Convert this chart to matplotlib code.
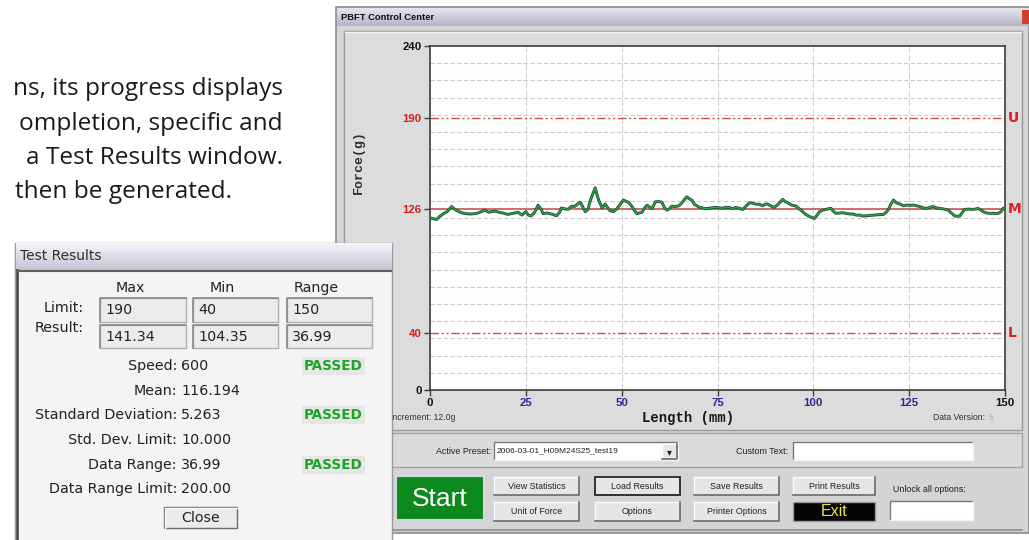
import numpy as np
import matplotlib
matplotlib.use("Agg")
import matplotlib.pyplot as plt
import matplotlib.colors as mc
from matplotlib.patches import Rectangle
from matplotlib import font_manager as fm

# ---------------- data ----------------
length_mm = [0, 0.8, 1.7, 2.5, 3.5, 4.5, 5.6, 6.5, 7.5, 8.5, 9.5, 10.5, 11.5, 12.5, 13.5, 14.3,
             15.3, 16.2, 17, 18, 19, 20.3, 21.2, 22, 23, 24, 25, 25.7, 26.4, 27.3, 28.2, 29,
             29.5, 30.5, 31.7, 32.5, 33, 33.8, 34.3, 35, 36, 37, 37.7, 38.6, 39.2, 40, 40.5,
             41.2, 41.8, 42.5, 43.1, 43.6, 44, 44.9, 45.7, 46.4, 47, 47.9, 48.6, 49.2, 50,
             50.5, 51.2, 51.8, 52.7, 53.4, 54, 55.3, 56, 56.6, 57.3, 57.9, 58.8, 59.6, 60.5,
             61.2, 61.8, 62.5, 63.1, 64, 64.9, 65.7, 66.4, 67, 67.6, 68.3, 69, 69.6, 70.3,
             70.9, 71.8, 72.7, 73.6, 74.6, 75.3, 76.2, 77.1, 78.1, 79, 79.8, 80.7, 81.6, 82.5,
             83.4, 84.2, 85, 86, 86.8, 87.5, 88.1, 89, 89.8, 90.8, 92, 92.6, 93.3, 94.3, 95.5,
             96.3, 97.2, 98, 99, 99.7, 100.3, 101, 101.6, 102.5, 103.4, 104, 104.6, 105.3,
             105.9, 106.8, 107.7, 108.5, 109.5, 110.3, 111.2, 112.2, 112.9, 114, 115.7, 117,
             118.3, 119, 119.6, 120.2, 120.9, 121.7, 122.6, 123.5, 124.4, 125.3, 126.1, 127,
             127.8, 128.7, 129.6, 130.5, 131.3, 132.2, 133, 134, 135.2, 136, 136.9, 137.5,
             138.2, 138.9, 139.5, 140.5, 141.7, 142.4, 143, 143.7, 144.3, 145.2, 146, 147,
             148.2, 149, 149.5, 150]
force_g = [120, 119.5, 119, 121, 123, 124.5, 128, 126, 124.5, 123.5, 123, 122.8, 123, 123.5,
           124.5, 125.5, 124, 124.5, 124.8, 124, 123.5, 122.5, 123, 123.5, 124, 122, 124.5,
           122, 121.5, 124, 129, 126, 123, 123.5, 122.8, 122, 121.5, 124, 127, 126.5, 126,
           128.3, 128, 130, 131, 127, 124.4, 126, 132, 137, 141, 136, 132.5, 127, 129.7, 127,
           125, 124.5, 126, 128, 131, 132.5, 131.5, 131, 128, 125, 123, 124, 127, 129, 127.5,
           126.5, 131.3, 131.5, 131, 127, 125.5, 126.5, 128.3, 128, 128.5, 130.5, 133, 134.8,
           133.5, 132.5, 129.5, 128.5, 127.5, 127.2, 126.5, 126.7, 127.2, 127.4, 127.2, 126.8,
           127.4, 127.3, 126.6, 127.4, 126.7, 126, 128.5, 130.7, 130.3, 129.7, 129.5, 128.5,
           129.7, 129.7, 128.3, 127.4, 129.5, 133, 131.5, 130.7, 129, 128.3, 126.5, 124.4,
           122.5, 121, 120.2, 119.7, 122, 124.4, 125.5, 126, 126.5, 126.7, 124.5, 123.2, 123.5,
           123.7, 123.2, 122.8, 122.8, 122, 122, 121.3, 121.6, 122, 122.3, 122.5, 124, 126,
           129.5, 132.5, 130.5, 129.7, 128.5, 129, 128.8, 129, 128.5, 128, 127, 126.7, 127.5,
           128, 127, 126.7, 126.3, 125.5, 123.5, 121.4, 121.2, 121.4, 124, 126, 126.2, 126,
           126.3, 126.7, 125.5, 124.4, 123.5, 123.2, 123.3, 123.2, 124.5, 126.7, 127]

upper_limit = 190
lower_limit = 40
mean_level = 126
grid_increment = 12.0
y_ticks = [0, 40, 126, 190, 240]
x_ticks = [0, 25, 50, 75, 100, 125, 150]
limit_tags = ["U", "M", "L"]

results_headers = ["Max", "Min", "Range"]
limit_values = ["190", "40", "150"]
result_values = ["141.34", "104.35", "36.99"]
stat_labels = ["Speed:", "Mean:", "Standard Deviation:", "Std. Dev. Limit:", "Data Range:",
               "Data Range Limit:"]
stat_values = ["600", "116.194", "5.263", "10.000", "36.99", "200.00"]
stat_status = ["PASSED", "", "PASSED", "", "PASSED", ""]

paragraph = ["ns, its progress displays", "ompletion, specific and",
             "a Test Results window.", "then be generated."]

# ---------------- fonts ----------------
names = {f.name for f in fm.fontManager.ttflist}
NARROW = "Liberation Sans Narrow" if "Liberation Sans Narrow" in names else "Liberation Sans"
NSCALE = 1.0 if NARROW == "Liberation Sans Narrow" else 0.82
MONO = "Liberation Mono"
BODY = "Open Sans" if "Open Sans" in names else "DejaVu Sans"

W, H = 1029, 540
fig = plt.figure(figsize=(W / 100, H / 100), dpi=100)
fig.patch.set_facecolor("white")

bg = fig.add_axes([0, 0, 1, 1], zorder=0)
bg.axis("off")
bg.set_autoscale_on(False)
bg.set_xlim(0, W)
bg.set_ylim(H, 0)


def rect(ax, x0, y0, x1, y1, fc, ec="none", lw=1.0, z=1):
    ax.add_patch(Rectangle((x0, y0), x1 - x0, y1 - y0, facecolor=fc, edgecolor=ec,
                           linewidth=lw, zorder=z))


def vgrad(ax, x0, y0, x1, y1, c0, c1, z=1):
    a = np.array(mc.to_rgb(c0))
    b = np.array(mc.to_rgb(c1))
    t = np.linspace(0, 1, 64)[:, None, None]
    img = a + (b - a) * t
    img = np.repeat(img, 2, axis=1)
    ax.imshow(img, extent=(x0, x1, y1, y0), aspect="auto", zorder=z, interpolation="bilinear")


def sunken(ax, x0, y0, x1, y1, fc="white", z=3):
    rect(ax, x0, y0, x1, y1, fc, z=z)
    ax.plot([x0, x0, x1], [y1, y0, y0], color="#7a7a7a", lw=1, zorder=z + 0.1)
    ax.plot([x0, x1, x1], [y1, y1, y0], color="#f4f4f4", lw=1, zorder=z + 0.1)


def button(ax, x0, y0, x1, y1, label, fc="#e6e6e6", tc="#222222", size=8.0, bold=False,
           family=None, dark=False, z=3):
    rect(ax, x0, y0, x1, y1, fc, z=z)
    ax.plot([x0, x0, x1], [y1, y0, y0], color="#fbfbfb", lw=1, zorder=z + 0.1)
    ax.plot([x0, x1, x1], [y1, y1, y0], color="#6a6a6a", lw=1.2, zorder=z + 0.1)
    if dark:
        rect(ax, x0, y0, x1, y1, "none", ec="#333333", lw=1.4, z=z + 0.2)
    ax.text((x0 + x1) / 2, (y0 + y1) / 2 + 0.5, label, ha="center", va="center", color=tc,
            fontsize=size, family=family or NARROW, fontweight="bold" if bold else "normal",
            zorder=z + 0.3)


# ---------------- left paragraph ----------------
para_right = [283, 283, 283, 232]
for i, line in enumerate(paragraph):
    bg.text(para_right[i], 89 + 34.5 * i, line, ha="right", va="center", fontsize=17.6,
            family=BODY, color="#1a1a1a")

# ---------------- PBFT window ----------------
rect(bg, 336, 7, W, 533, "#d4d4d6", ec="#8c8c90", lw=1.2, z=1)
vgrad(bg, 337, 8, W, 26, "#e6e6ee", "#b4b4c6", z=1.2)
bg.text(341, 17.5, "PBFT Control Center", ha="left", va="center", fontsize=8.2 * NSCALE,
        family=NARROW, fontweight="bold", color="#101010", zorder=2)
rect(bg, 1022, 10, 1030, 24, "#d04030", z=1.3)
# chart panel
rect(bg, 344, 31, 1022, 430, "#dcdcdc", ec="#9a9a9a", lw=1, z=1.5)
bg.plot([345, 1021], [31.5, 31.5], color="#f6f6f6", lw=1, zorder=1.6)
# preset panel
rect(bg, 344, 433, 1022, 467, "#dadada", ec="#a4a4a4", lw=1, z=1.5)
bg.plot([344, 1022], [530, 530], color="#8c8c8c", lw=1.2, zorder=1.6)

bg.text(390, 418, "Increment: 12.0g", ha="left", va="center", fontsize=7.6 * NSCALE,
        family=NARROW, color="#303030", zorder=2)
bg.text(985, 418, "Data Version:", ha="right", va="center", fontsize=7.6 * NSCALE,
        family=NARROW, color="#303030", zorder=2)
bg.text(989, 418, "5", ha="left", va="center", fontsize=7.6 * NSCALE, family=NARROW,
        color="#b0b0b0", zorder=2)
bg.text(688, 418, "Length (mm)", ha="center", va="center", fontsize=10, family=MONO,
        fontweight="bold", color="#151515", zorder=2)
bg.text(359, 162, "Force(g)", ha="center", va="center", rotation=90, fontsize=9.5,
        family=MONO, fontweight="bold", color="#303030", zorder=2)

bg.text(491, 451, "Active Preset:", ha="right", va="center", fontsize=7.8 * NSCALE,
        family=NARROW, color="#202020", zorder=2)
sunken(bg, 494, 442, 678, 460)
bg.text(497, 450.5, "2006-03-01_H09M24S25_test19", ha="left", va="center",
        fontsize=7.4 * NSCALE, family=NARROW, color="#202020", zorder=4)
button(bg, 662, 443.5, 677, 459, "\u25be", size=7, family="DejaVu Sans", z=4)
bg.text(788, 451, "Custom Text:", ha="right", va="center", fontsize=7.8 * NSCALE,
        family=NARROW, color="#202020", zorder=2)
sunken(bg, 793, 442, 973, 460)

# buttons
rect(bg, 396, 476, 484, 520, "#0c8a1e", ec="#d8d8d8", lw=1.5, z=3)
bg.text(440, 498.5, "Start", ha="center", va="center", fontsize=19, family="Liberation Sans",
        color="white", zorder=4)
btn_cols = [(494, 579), (595, 680), (694, 779), (793, 875)]
top_labels = ["View Statistics", "Load Results", "Save Results", "Print Results"]
bot_labels = ["Unit of Force", "Options", "Printer Options", None]
for (x0, x1), t_lab, b_lab in zip(btn_cols, top_labels, bot_labels):
    button(bg, x0, 477, x1, 495, t_lab, size=7.8 * NSCALE, dark=(t_lab == "Load Results"))
    if b_lab:
        button(bg, x0, 502, x1, 521, b_lab, size=7.8 * NSCALE)
rect(bg, 793, 502, 875, 521, "#050505", ec="#9a9a9a", lw=1, z=3)
bg.text(834, 511.5, "Exit", ha="center", va="center", fontsize=11.5, family="Liberation Sans",
        color="#eaea3a", zorder=4)
bg.text(893, 490, "Unlock all options:", ha="left", va="center", fontsize=7.8 * NSCALE,
        family=NARROW, color="#202020", zorder=2)
sunken(bg, 890, 501, 973, 520)

# ---------------- chart ----------------
ax = fig.add_axes([430 / W, 1 - 390 / H, 575 / W, 344 / H], zorder=2)
ax.set_facecolor("white")
ax.set_xlim(x_ticks[0], x_ticks[-1])
ax.set_ylim(y_ticks[0], y_ticks[-1])
for g in np.arange(grid_increment, y_ticks[-1], grid_increment):
    ax.axhline(g, color="#cbcbcb", lw=0.8, ls=(0, (4, 2)), zorder=1)
for v in x_ticks[1:-1]:
    ax.axvline(v, color="#d4d4d4", lw=0.8, ls=(0, (6, 2)), zorder=1)
dashdotdot = (0, (6, 2, 1.5, 2, 1.5, 2))
ax.axhline(upper_limit, color="#d04a4a", lw=1.0, ls=dashdotdot, zorder=2)
ax.axhline(lower_limit, color="#d04a4a", lw=1.0, ls=dashdotdot, zorder=2)
ax.axhline(mean_level, color="#c8505a", lw=1.2, zorder=2)
ax.plot(length_mm, force_g, color="#1c4f2a", lw=2.1, zorder=3, solid_joinstyle="round")
ax.plot(length_mm, force_g, color="#2ea84c", lw=0.9, zorder=3.1, solid_joinstyle="round")

for s in ax.spines.values():
    s.set_color("#3c3c3c")
    s.set_linewidth(1.2)

ax.set_yticks(y_ticks)
ax.set_yticklabels([str(v) for v in y_ticks])
ax.set_xticks(x_ticks)
ax.set_xticklabels([str(v) for v in x_ticks])
ax.tick_params(axis="both", length=4, width=1, color="#3c3c3c", pad=2)
for lab, v in zip(ax.get_yticklabels(), y_ticks):
    lab.set_color("#111111" if v in (y_ticks[0], y_ticks[-1]) else "#d02020")
    lab.set_family(NARROW)
    lab.set_fontweight("bold")
    lab.set_fontsize(10 * NSCALE)
for lab, v in zip(ax.get_xticklabels(), x_ticks):
    lab.set_color("#111111" if v in (x_ticks[0], x_ticks[-1]) else "#2a2a90")
    lab.set_family(NARROW)
    lab.set_fontweight("bold")
    lab.set_fontsize(10 * NSCALE)

for tag, lvl in zip(limit_tags, [upper_limit, mean_level, lower_limit]):
    ax.text(1.004, lvl, tag, transform=ax.get_yaxis_transform(), ha="left", va="center",
            color="#e02020", fontsize=10, fontweight="bold", family="DejaVu Sans",
            clip_on=False)

# ---------------- Test Results window ----------------
ov = fig.add_axes([0, 0, 1, 1], zorder=5)
ov.axis("off")
ov.set_autoscale_on(False)
ov.set_xlim(0, W)
ov.set_ylim(H, 0)
rect(ov, 15, 243, 392, 545, "#f4f4f4", ec="#9a9aa2", lw=1, z=1)
vgrad(ov, 15.5, 243.5, 391.5, 270, "#f6f6f8", "#c4c4d6", z=1.2)
ov.plot([16.5, 16.5], [270, 545], color="#505050", lw=2, zorder=1.5)
ov.plot([16.5, 391], [270.5, 270.5], color="#606060", lw=1.5, zorder=1.5)
ov.text(20, 256.5, "Test Results", ha="left", va="center", fontsize=10,
        family="DejaVu Sans", color="#303030", zorder=2)

TF = dict(family="DejaVu Sans", fontsize=10.3, color="#222222", va="center", zorder=3)
col_x = [(100, 186), (193, 278), (287, 372)]
for (x0, x1), head in zip(col_x, results_headers):
    ov.text((x0 + x1) / 2 - 13, 288, head, ha="center", **TF)
ov.text(84, 308, "Limit:", ha="right", **TF)
ov.text(84, 327.5, "Result:", ha="right", **TF)
for (x0, x1), lv, rv in zip(col_x, limit_values, result_values):
    for (y0, y1), val in (((298, 322), lv), ((325, 348), rv)):
        rect(ov, x0, y0, x1, y1, "#ececec", ec="#b0b0b0", lw=1, z=2)
        ov.plot([x0, x0, x1], [y1, y0, y0], color="#8a8a8a", lw=1.2, zorder=2.1)
        ov.text(x0 + 5, (y0 + y1) / 2 + 0.5, val, ha="left", **TF)

row_y = [366, 391, 415, 440, 465, 489]
for y, lab, val, st in zip(row_y, stat_labels, stat_values, stat_status):
    ov.text(177, y, lab, ha="right", **TF)
    ov.text(181, y, val, ha="left", **TF)
    if st:
        rect(ov, 302, y - 9, 365, y + 9, "#e6e6e6", z=2)
        ov.text(333.5, y, st, ha="center", va="center", family="DejaVu Sans", fontsize=9.8,
                fontweight="bold", color="#1ea528", zorder=3)

rect(ov, 164, 507, 237, 528, "#ebebeb", ec="#6a6a6a", lw=1, z=2)
ov.plot([164.5, 164.5, 236.5], [527.5, 507.5, 507.5], color="#ffffff", lw=1, zorder=2.1)
ov.text(200.5, 517.5, "Close", ha="center", **TF)

fig.savefig("out.png", dpi=100, facecolor="white")
